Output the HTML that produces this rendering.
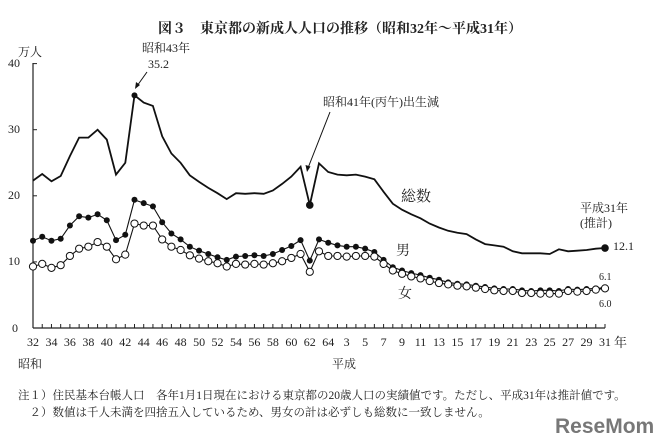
<!DOCTYPE html>
<html><head><meta charset="utf-8"><style>
html,body{margin:0;padding:0;background:#fff;}
svg{display:block;}
text{font-family:"Liberation Serif","Noto Serif CJK SC",serif;fill:#222;}
</style></head><body>
<svg id="c" width="669" height="447" viewBox="0 0 669 447" xmlns="http://www.w3.org/2000/svg">
<text x="340" y="33" font-size="14" text-anchor="middle" font-weight="bold">図３　東京都の新成人人口の推移（昭和32年～平成31年）</text>
<text x="18" y="56" font-size="12">万人</text>
<g font-size="12" text-anchor="end">
<text x="20" y="67">40</text><text x="20" y="133">30</text><text x="20" y="199">20</text><text x="20" y="265">10</text><text x="18" y="332">0</text>
</g>
<text x="142" y="52" font-size="12">昭和43年</text>
<text x="148" y="68" font-size="12">35.2</text>
<text x="323" y="106" font-size="12">昭和41年(丙午)出生減</text>
<text x="401" y="201" font-size="15">総数</text>
<text x="396" y="255" font-size="14">男</text>
<text x="398" y="298" font-size="14">女</text>
<text x="580" y="212" font-size="12">平成31年</text>
<text x="580" y="227" font-size="12">(推計)</text>
<text x="613" y="250" font-size="12">12.1</text>
<text x="599" y="280" font-size="10">6.1</text>
<text x="599" y="307" font-size="10">6.0</text>
<text x="18" y="368" font-size="12">昭和</text>
<text x="332" y="368" font-size="12">平成</text>
<text x="614" y="347" font-size="13">年</text>
<text x="18" y="399" font-size="11.5">注１）住民基本台帳人口　各年1月1日現在における東京都の20歳人口の実績値です。ただし、平成31年は推計値です。</text>
<text x="18" y="416" font-size="11.5">　２）数値は千人未満を四捨五入しているため、男女の計は必ずしも総数に一致しません。</text>
<text x="555" y="433" font-size="21" font-weight="bold" style="font-family:'Liberation Sans',sans-serif;fill:#777">ReseMom</text>
<g id="g"></g>
</svg>
<script>
var T=[22.3,23.3,22.2,23,26,28.8,28.8,30,28.5,23.2,25,35.2,34.1,33.6,29,26.4,25,23.1,22.1,21.2,20.4,19.5,20.4,20.3,20.4,20.3,20.8,21.8,22.9,24.4,18.6,24.9,23.6,23.2,23.1,23.2,22.9,22.5,20.6,18.8,17.9,17.2,16.6,15.8,15.2,14.7,14.4,14.2,13.4,12.7,12.5,12.3,11.6,11.3,11.3,11.3,11.2,11.9,11.6,11.7,11.8,12.0,12.1];
var M=[13.2,13.8,13.2,13.5,15.5,16.9,16.7,17.2,16.3,13.3,14.1,19.4,18.9,18.4,16,14.3,13.4,12.3,11.7,11.2,10.7,10.3,10.8,10.9,11,10.9,11.2,11.8,12.4,13.3,10.2,13.4,12.9,12.5,12.3,12.3,12.0,11.5,10.3,9.2,8.7,8.3,8.0,7.6,7.3,6.9,6.7,6.6,6.4,6.2,6.0,5.9,5.9,5.7,5.6,5.7,5.7,5.6,5.9,5.8,5.9,6.0,6.1];
var F=[9.3,9.7,9.1,9.5,10.9,12,12.3,13,12.3,10.4,11.1,15.8,15.5,15.5,13.4,12.3,11.8,11,10.5,10.1,9.8,9.3,9.7,9.6,9.7,9.6,9.8,10.1,10.6,11.2,8.5,11.6,10.9,10.9,10.8,10.9,10.9,10.8,9.7,8.7,8.2,7.8,7.5,7.1,6.8,6.6,6.4,6.3,6.1,5.9,5.7,5.6,5.6,5.3,5.3,5.2,5.2,5.2,5.6,5.5,5.6,5.8,6.0];
function X(i){return 33+i*9.226;}function Y(v){return 328-v*6.61;}
var s='';
s+='<line x1="33" y1="63" x2="33" y2="328" stroke="#222" stroke-width="1.2"/>';
s+='<line x1="33" y1="328" x2="605" y2="328" stroke="#222" stroke-width="1.2"/>';
for(var k=0;k<=4;k++)s+='<line x1="33" y1="'+Y(k*10)+'" x2="37" y2="'+Y(k*10)+'" stroke="#222"/>';
for(var i=0;i<63;i++){s+='<line x1="'+X(i)+'" y1="328" x2="'+X(i)+'" y2="324" stroke="#222"/>';
 if(i%2==0){var l=i<=32?(32+i):(i-31);s+='<text x="'+X(i)+'" y="346" font-size="12" text-anchor="middle">'+l+'</text>';}}
function pl(a,w){return '<polyline fill="none" stroke="#111" stroke-width="'+w+'" points="'+a.map(function(v,i){return X(i).toFixed(1)+','+Y(v).toFixed(1)}).join(' ')+'"/>';}
s+=pl(T,1.8)+pl(M,1.1)+pl(F,1.1);
M.forEach(function(v,i){s+='<circle cx="'+X(i)+'" cy="'+Y(v)+'" r="3" fill="#111"/>';});
F.forEach(function(v,i){s+='<circle cx="'+X(i)+'" cy="'+Y(v)+'" r="3.6" fill="#fff" stroke="#111" stroke-width="1"/>';});
s+='<circle cx="'+X(11)+'" cy="'+Y(35.2)+'" r="3" fill="#111"/>';
s+='<circle cx="'+X(30)+'" cy="'+Y(18.6)+'" r="3.8" fill="#111"/>';
s+='<circle cx="'+X(62)+'" cy="'+Y(12.1)+'" r="3.8" fill="#111"/>';
s+='<line x1="147" y1="72" x2="137" y2="86" stroke="#111"/><path d="M135,89 l1,-7 l4,3z" fill="#111"/>';
s+='<line x1="330" y1="112" x2="308" y2="168" stroke="#111"/><path d="M307,172 l-1.5,-7 l5,1.5z" fill="#111"/>';
document.getElementById('g').innerHTML=s;
</script>
</body></html>
